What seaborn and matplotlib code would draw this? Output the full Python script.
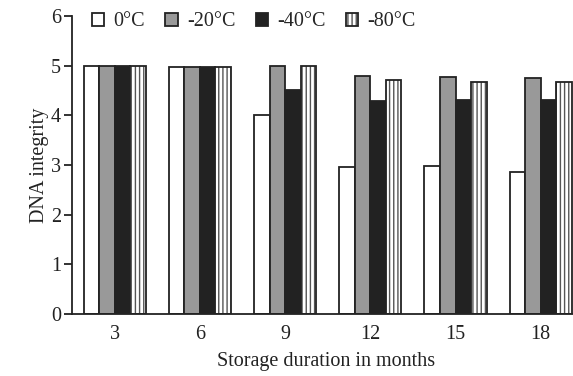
import matplotlib
matplotlib.use("Agg")
import matplotlib.pyplot as plt
import seaborn as sns
import pandas as pd

months = ["3", "6", "9", "12", "15", "18"]
temps = ["0°C", "-20°C", "-40°C", "-80°C"]
v_0 = [5.0, 4.98, 4.0, 2.97, 2.98, 2.87]
v_20 = [5.0, 4.98, 4.99, 4.79, 4.77, 4.75]
v_40 = [5.0, 4.98, 4.51, 4.29, 4.31, 4.32]
v_80 = [5.0, 4.98, 4.99, 4.71, 4.67, 4.67]

rows = []
for t, vals in zip(temps, [v_0, v_20, v_40, v_80]):
    for m, v in zip(months, vals):
        rows.append({"month": m, "temp": t, "value": v})
df = pd.DataFrame(rows)

sns.set_style("ticks")
plt.rcParams["font.family"] = ["Liberation Serif", "DejaVu Serif"]
plt.rcParams["hatch.linewidth"] = 1.0

fig = plt.figure(figsize=(5.73, 3.76), dpi=100)
ax = fig.add_axes([0.1257, 0.165, 0.885, 0.792])

palette = ["#ffffff", "#999999", "#222222", "#ffffff"]
edge = "#222222"
hatch_col = matplotlib.colors.to_rgba("#555555")
sns.barplot(data=df, x="month", y="value", hue="temp", order=months,
            hue_order=temps, palette=palette, width=0.73, ax=ax,
            edgecolor=edge, linewidth=1.3, saturation=1, legend=False)

for p in ax.containers[3].patches:
    p.set_hatch("||||")
    p._hatch_color = hatch_col

ax.set_xlim(-0.5, 5.45)
ax.set_ylim(0, 6)
ax.set_yticks([0, 1, 2, 3, 4, 5, 6])
sns.despine(ax=ax)
for s in ["left", "bottom"]:
    ax.spines[s].set_linewidth(1.3)
    ax.spines[s].set_color("#222222")
ax.tick_params(axis="y", length=6, width=1.3, labelsize=14.5, colors="#222222", pad=2)
ax.tick_params(axis="x", length=0, labelsize=14.5, colors="#222222", pad=8)
ax.set_ylabel("DNA integrity", fontsize=14.5, color="#222222", labelpad=1)
ax.set_xlabel("Storage duration in months", fontsize=14.5, color="#222222", labelpad=6)

handles = [c.patches[0] for c in ax.containers]
leg = ax.legend(handles, temps, loc="center left",
                bbox_to_anchor=(92 / 573, 1 - 22 / 376),
                bbox_transform=fig.transFigure,
                ncol=4, frameon=False, fontsize=14.5, handlelength=0.62,
                handleheight=0.62, handletextpad=0.45, columnspacing=1.0,
                borderaxespad=0, borderpad=0)
for h in leg.legend_handles:
    if h.get_hatch():
        h._hatch_color = hatch_col

fig.savefig("out.png", dpi=100)
